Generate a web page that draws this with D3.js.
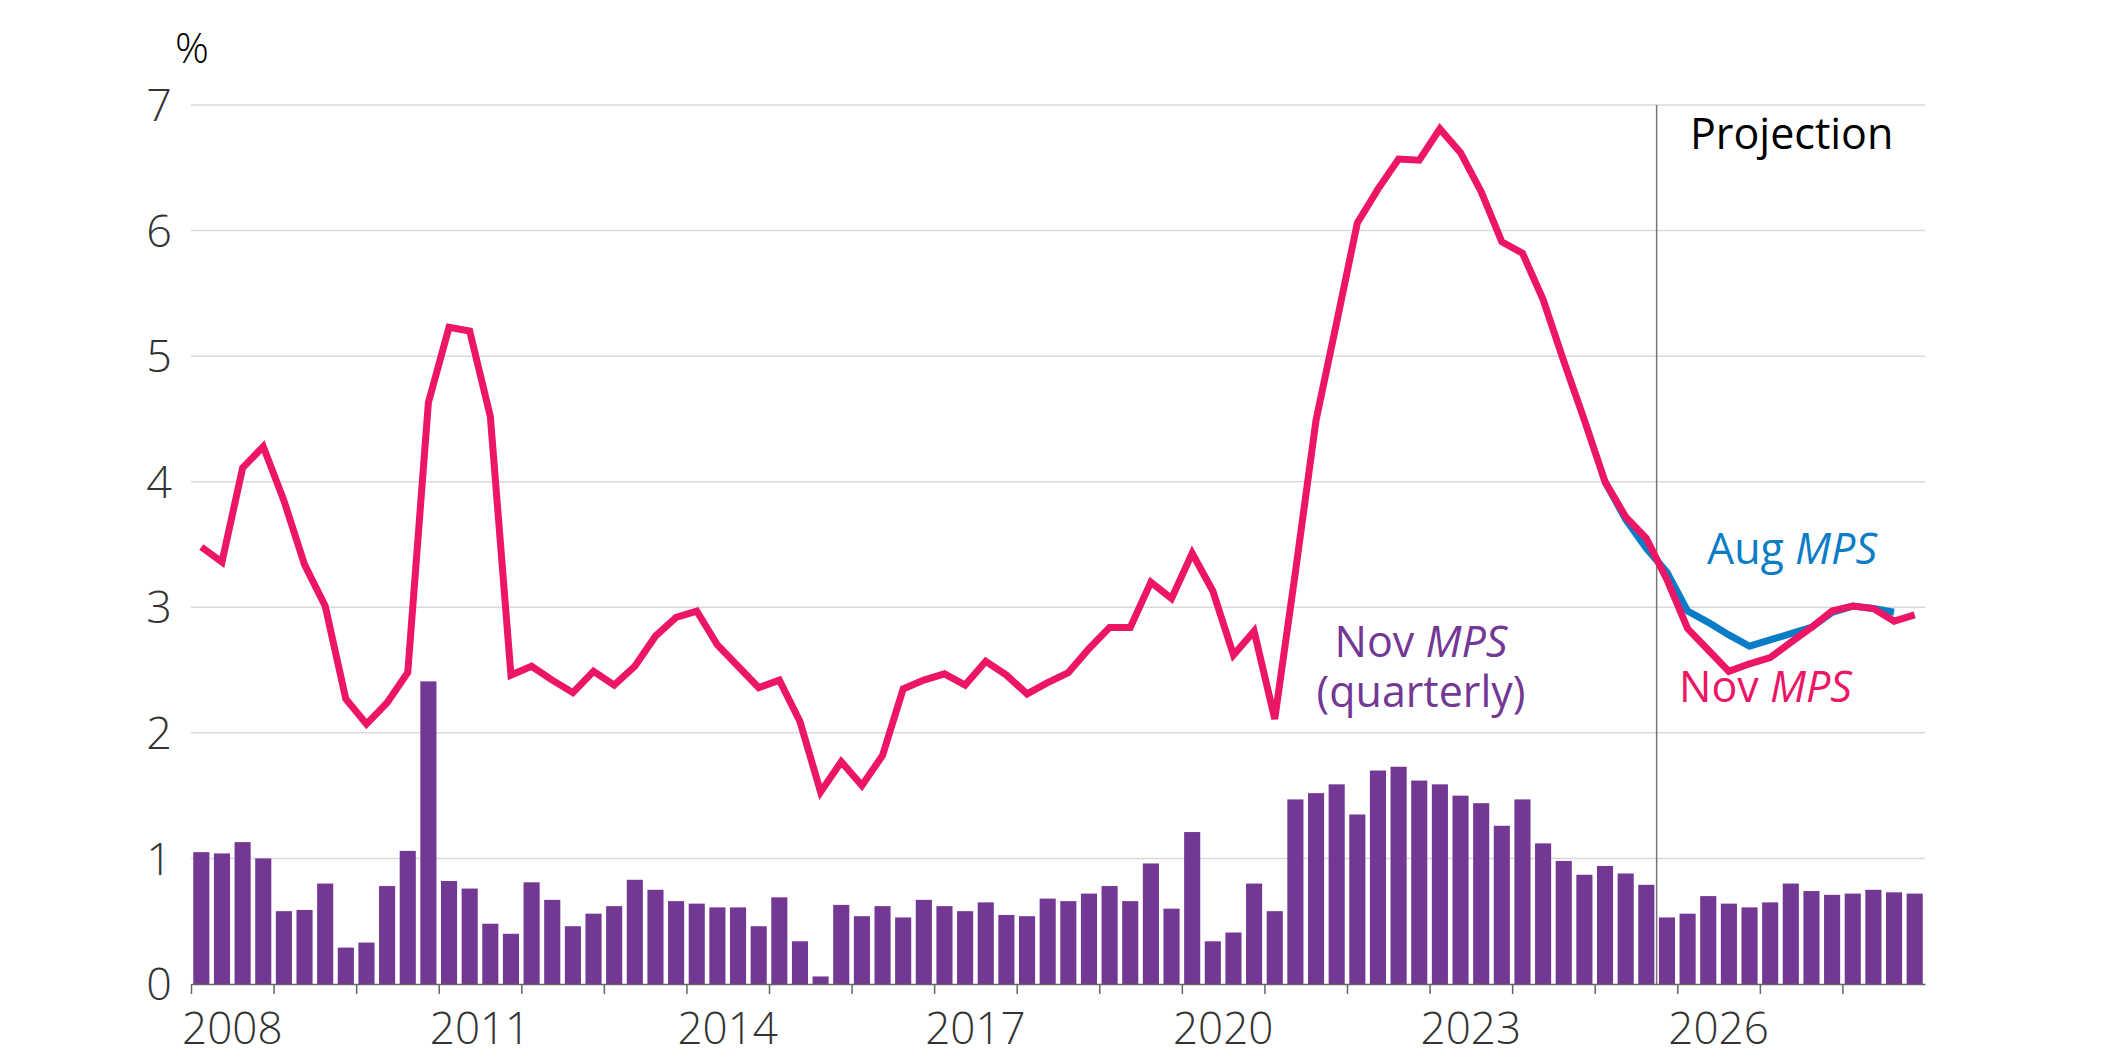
<!DOCTYPE html>
<html>
<head>
<meta charset="utf-8">
<script src="https://cdn.jsdelivr.net/npm/d3@7"></script>
<style>
  body { margin: 0; background: #fff; }
  svg { display: block; font-family: "Open Sans", "Noto Sans", sans-serif; }
</style>
</head>
<body>
<svg id="chart"></svg>
<script>
// quarterly data, 2008 Q1 to 2028 Q4 (84 quarters)
var startYear = 2008, endYear = 2029;

// Nov MPS annual growth (line), %
var novLine = [3.48, 3.36, 4.11, 4.28, 3.85, 3.34, 3.01, 2.27, 2.07, 2.24,
  2.48, 4.63, 5.23, 5.20, 4.52, 2.46, 2.53, 2.42, 2.32, 2.49,
  2.38, 2.53, 2.77, 2.92, 2.97, 2.70, 2.53, 2.36, 2.42, 2.09,
  1.53, 1.77, 1.58, 1.82, 2.35, 2.42, 2.47, 2.38, 2.57, 2.46,
  2.31, 2.40, 2.48, 2.67, 2.84, 2.84, 3.20, 3.07, 3.43, 3.13,
  2.62, 2.81, 2.11, 3.28, 4.49, 5.27, 6.06, 6.33, 6.57, 6.56,
  6.81, 6.62, 6.31, 5.91, 5.82, 5.45, 4.96, 4.49, 4.00, 3.72,
  3.55, 3.22, 2.83, 2.66, 2.49, 2.55, 2.60, 2.72, 2.84, 2.97,
  3.01, 2.99, 2.89, 2.94];

// Aug MPS projection (line), starts at quarter index 68
var augStart = 68;
var augLine = [4.00, 3.70, 3.47, 3.28, 2.97, 2.88, 2.78, 2.69, 2.74, 2.79,
  2.84, 2.96, 3.01, 2.99, 2.96];

// Nov MPS quarterly growth (bars), %
var novBars = [1.05, 1.04, 1.13, 1.00, 0.58, 0.59, 0.80, 0.29, 0.33, 0.78,
  1.06, 2.41, 0.82, 0.76, 0.48, 0.40, 0.81, 0.67, 0.46, 0.56,
  0.62, 0.83, 0.75, 0.66, 0.64, 0.61, 0.61, 0.46, 0.69, 0.34,
  0.06, 0.63, 0.54, 0.62, 0.53, 0.67, 0.62, 0.58, 0.65, 0.55,
  0.54, 0.68, 0.66, 0.72, 0.78, 0.66, 0.96, 0.60, 1.21, 0.34,
  0.41, 0.80, 0.58, 1.47, 1.52, 1.59, 1.35, 1.70, 1.73, 1.62,
  1.59, 1.50, 1.44, 1.26, 1.47, 1.12, 0.98, 0.87, 0.94, 0.88,
  0.79, 0.53, 0.56, 0.70, 0.64, 0.61, 0.65, 0.80, 0.74, 0.71,
  0.72, 0.75, 0.73, 0.72];

var yTicks = [0, 1, 2, 3, 4, 5, 6, 7];
var yearLabels = [2008, 2011, 2014, 2017, 2020, 2023, 2026];
var projectionStart = 2025.75;

var W = 2116, H = 1059;
var margin = {top: 105, right: 191, bottom: 75, left: 191};
var width = W - margin.left - margin.right,
    height = H - margin.top - margin.bottom;

var svg = d3.select("#chart").attr("width", W).attr("height", H);
var plot = svg.append("g")
  .attr("transform", "translate(" + margin.left + "," + margin.top + ")");

// scales
var quarters = d3.range(novLine.length);
var x = d3.scaleBand().domain(quarters).range([0, width])
  .paddingInner(0.22).paddingOuter(0.11);
var xYear = d3.scaleLinear().domain([startYear, endYear]).range([0, width]);
var y = d3.scaleLinear().domain([0, 7]).range([height, 0]);
var xc = function(i) { return x(i) + x.bandwidth() / 2; };

// gridlines
plot.append("g")
  .selectAll("line")
  .data(yTicks.slice(1))
  .enter().append("line")
  .attr("x1", 0).attr("x2", width)
  .attr("y1", function(d) { return y(d); })
  .attr("y2", function(d) { return y(d); })
  .attr("stroke", "#d9d9d9")
  .attr("stroke-width", 1.5);

// y labels
plot.append("g")
  .selectAll("text")
  .data(yTicks)
  .enter().append("text")
  .attr("x", -19)
  .attr("y", function(d) { return y(d); })
  .attr("dy", "0.36em")
  .attr("text-anchor", "end")
  .attr("font-size", "45px")
  .attr("font-weight", 300)
  .attr("fill", "#333")
  .text(function(d) { return d; });

svg.append("text")
  .attr("x", 175).attr("y", 63)
  .attr("font-size", "42px")
  .attr("font-weight", 300)
  .attr("fill", "#000")
  .text("%");

// bars
plot.append("g")
  .selectAll("rect")
  .data(novBars)
  .enter().append("rect")
  .attr("x", function(d, i) { return x(i); })
  .attr("y", function(d) { return y(d); })
  .attr("width", x.bandwidth())
  .attr("height", function(d) { return y(0) - y(d); })
  .attr("fill", "#733794");

// x axis
var xAxis = plot.append("g")
  .attr("transform", "translate(0," + height + ")")
  .call(d3.axisBottom(xYear)
    .tickValues(d3.range(startYear, endYear))
    .tickSize(10)
    .tickSizeOuter(0)
    .tickFormat(""));
xAxis.select(".domain").attr("stroke", "#666").attr("stroke-width", 1.5);
xAxis.selectAll(".tick line").attr("stroke", "#666").attr("stroke-width", 1.5);

plot.append("g")
  .selectAll("text")
  .data(yearLabels)
  .enter().append("text")
  .attr("x", function(d) { return xYear(d + 0.5); })
  .attr("y", height + 60)
  .attr("text-anchor", "middle")
  .attr("font-size", "44px")
  .attr("font-weight", 300)
  .attr("fill", "#333")
  .text(function(d) { return d; });

// projection divider
plot.append("line")
  .attr("x1", xYear(projectionStart)).attr("x2", xYear(projectionStart))
  .attr("y1", 0).attr("y2", height)
  .attr("stroke", "#777")
  .attr("stroke-width", 1.5);

// lines
var line = d3.line()
  .x(function(d) { return xc(d.i); })
  .y(function(d) { return y(d.v); });

plot.append("path")
  .datum(augLine.map(function(v, k) { return {i: augStart + k, v: v}; }))
  .attr("d", line)
  .attr("fill", "none")
  .attr("stroke", "#0A7DC6")
  .attr("stroke-width", 7);

plot.append("path")
  .datum(novLine.map(function(v, i) { return {i: i, v: v}; }))
  .attr("d", line)
  .attr("fill", "none")
  .attr("stroke", "#EC1566")
  .attr("stroke-width", 7)
  .attr("stroke-linejoin", "miter");

// annotations
function label(xp, yp, parts, color, anchor) {
  var t = svg.append("text")
    .attr("x", xp).attr("y", yp)
    .attr("text-anchor", anchor || "start")
    .attr("font-size", "43px")
    .attr("fill", color);
  parts.forEach(function(p) {
    var s = t.append("tspan").text(p.t);
    if (p.it) s.attr("font-style", "italic");
  });
}

label(1690, 149, [{t: "Projection"}], "#000");
label(1707, 564, [{t: "Aug "}, {t: "MPS", it: true}], "#0A7DC6");
label(1679, 702, [{t: "Nov "}, {t: "MPS", it: true}], "#EC1566");
label(1421, 657, [{t: "Nov "}, {t: "MPS", it: true}], "#733794", "middle");
label(1421, 707, [{t: "(quarterly)"}], "#733794", "middle");
</script>
</body>
</html>
